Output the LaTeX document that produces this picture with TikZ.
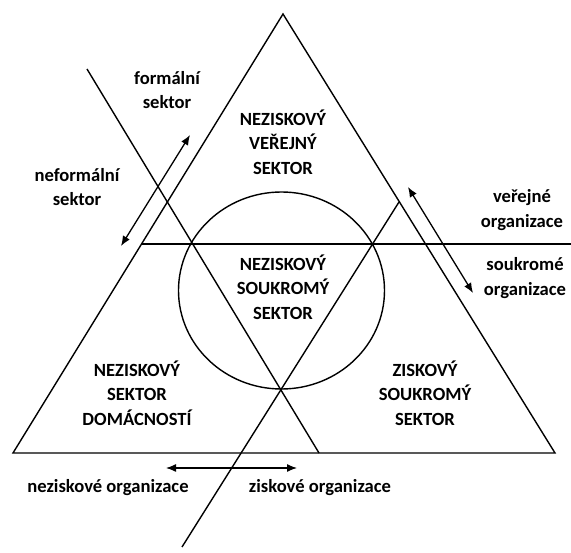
\documentclass[tikz,border=0pt]{standalone}
\usepackage{fontspec}
\setmainfont{Carlito}
\usetikzlibrary{arrows.meta,shapes.geometric}
\begin{document}
\begin{tikzpicture}[x=1pt,y=-1pt,
  ln/.style={line width=1.4pt},
  dbl/.style={line width=1.3pt,{Latex[length=10pt,width=8pt]}-{Latex[length=10pt,width=8pt]}},
  lbl/.style={font=\fontsize{18.6}{24.5}\selectfont\bfseries,align=center,inner sep=0pt}]
\useasboundingbox (0,0) rectangle (571,553);
% triangle vertices
\coordinate (A) at (283,14);
\coordinate (BL) at (13,453);
\coordinate (BR) at (555,453);
\draw[ln,line join=miter] (A) -- (BL) -- (BR) -- cycle;
% horizontal line
\coordinate (H1) at (141.5,244);
\coordinate (H2) at (571,244);
\draw[ln] (H1) -- (H2);
% diagonals
\coordinate (D1a) at (87,69);
\coordinate (D1b) at (319,453);
\draw[ln] (D1a) -- (D1b);
\coordinate (D2a) at (182,547);
\coordinate (D2b) at (399,202);
\draw[ln] (D2a) -- (D2b);
% circle
\node[draw,ln,ellipse,minimum width=206pt,minimum height=197pt,inner sep=0pt] (C) at (281.5,290.5) {};
% arrows
\coordinate (L1) at (190,135);
\coordinate (L2) at (121,246);
\draw[dbl] (L1) -- (L2);
\coordinate (R1) at (408,187);
\coordinate (R2) at (473,293);
\draw[dbl] (R1) -- (R2);
\coordinate (B1) at (166,468);
\coordinate (B2) at (297,468);
\draw[dbl] (B1) -- (B2);
% labels
\node[lbl] (formal) at (167,90) {formální\\sektor};
\node[lbl] (neformal) at (77,187) {neformální\\sektor};
\node[lbl] (nvs) at (283,142) {NEZISKOVÝ\\VEŘEJNÝ\\SEKTOR};
\node[lbl] (nss) at (283,287) {NEZISKOVÝ\\SOUKROMÝ\\SEKTOR};
\node[lbl] (nsd) at (137,393) {NEZISKOVÝ\\SEKTOR\\DOMÁCNOSTÍ};
\node[lbl] (zss) at (425,393) {ZISKOVÝ\\SOUKROMÝ\\SEKTOR};
\node[lbl] (ver) at (522,210) {veřejné\\organizace};
\node[lbl] (souk) at (525,278) {soukromé\\organizace};
\node[lbl] (nezo) at (108,488) {neziskové organizace};
\node[lbl] (ziso) at (320,488) {ziskové organizace};
\end{tikzpicture}
\end{document}
